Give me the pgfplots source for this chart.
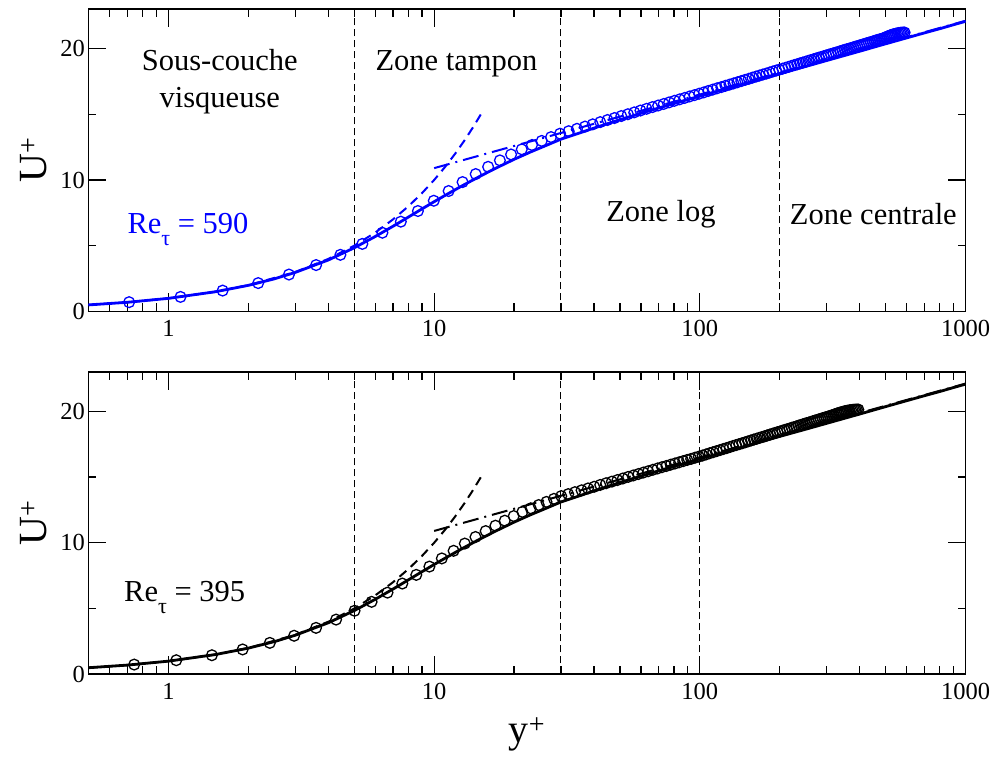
\documentclass[border=0pt]{standalone}
\usepackage{pgfplots}
\pgfplotsset{compat=1.18}
\usepackage{pgfplotstable}
\usepackage{fontspec}
\setmainfont{Liberation Serif}
\definecolor{pblue}{RGB}{0,0,255}

% DNS Re_tau = 590
\pgfplotstableread{
yp Up
0.711 0.71
1.110 1.11
1.599 1.59
2.176 2.16
2.841 2.81
3.595 3.53
4.437 4.31
5.367 5.14
6.386 5.99
7.492 6.83
8.686 7.64
9.968 8.42
11.337 9.16
12.793 9.84
14.335 10.45
15.965 11.00
17.681 11.49
19.484 11.94
21.372 12.33
23.346 12.66
25.405 12.97
27.549 13.26
29.778 13.52
32.09 13.71
34.49 13.89
36.97 14.06
39.53 14.23
42.20 14.40
44.93 14.56
47.74 14.71
50.62 14.86
53.61 15.00
56.66 15.14
59.78 15.28
63.01 15.41
66.31 15.54
69.67 15.66
73.13 15.78
76.66 15.90
80.26 16.02
83.95 16.13
87.72 16.24
91.56 16.35
95.45 16.45
99.44 16.56
103.51 16.66
107.63 16.77
111.83 16.87
116.12 16.97
120.47 17.06
124.88 17.16
129.38 17.25
133.94 17.34
138.56 17.43
143.26 17.52
148.03 17.61
152.85 17.69
157.74 17.78
162.71 17.86
167.73 17.94
172.81 18.02
177.97 18.09
183.18 18.17
188.45 18.25
193.79 18.32
199.19 18.39
204.64 18.46
210.14 18.53
215.72 18.60
221.34 18.67
227.01 18.74
232.76 18.80
238.55 18.87
244.38 18.93
250.28 18.99
256.23 19.06
262.23 19.12
268.26 19.18
274.36 19.24
280.50 19.30
286.68 19.35
292.92 19.41
299.20 19.47
305.52 19.52
311.88 19.58
318.29 19.63
324.74 19.68
331.21 19.73
337.75 19.79
344.32 19.84
350.91 19.89
357.55 19.94
364.22 19.98
370.93 20.03
377.66 20.08
384.44 20.13
391.24 20.17
398.07 20.22
404.93 20.26
411.83 20.31
418.73 20.35
425.67 20.40
432.64 20.44
439.63 20.48
446.64 20.52
453.69 20.57
460.74 20.61
467.81 20.65
474.90 20.69
482.01 20.72
489.13 20.76
496.27 20.81
503.44 20.87
510.60 20.92
517.78 20.97
524.97 21.02
532.17 21.06
539.38 21.09
546.59 21.12
553.82 21.15
561.05 21.17
568.29 21.19
575.53 21.20
582.76 21.21
590.00 21.21
}\dnsA

% DNS Re_tau = 395
\pgfplotstableread{
yp Up
0.743 0.74
1.070 1.07
1.457 1.45
1.902 1.89
2.407 2.39
2.971 2.93
3.593 3.53
4.275 4.16
5.016 4.83
5.815 5.51
6.673 6.21
7.590 6.90
8.565 7.56
9.597 8.19
10.688 8.81
11.837 9.39
13.044 9.94
14.308 10.44
15.630 10.89
17.008 11.30
18.444 11.68
19.936 12.03
21.485 12.35
23.090 12.62
24.751 12.87
26.468 13.11
28.25 13.34
30.08 13.55
31.96 13.70
33.89 13.85
35.89 13.99
37.94 14.13
40.03 14.26
42.19 14.40
44.39 14.53
46.65 14.65
48.96 14.77
51.33 14.89
53.74 15.01
56.20 15.12
58.73 15.23
61.30 15.34
63.90 15.44
66.58 15.55
69.30 15.65
72.06 15.75
74.87 15.84
77.74 15.94
80.66 16.03
83.61 16.12
86.62 16.21
89.67 16.30
92.76 16.38
95.91 16.47
99.10 16.55
102.33 16.63
105.61 16.72
108.93 16.81
112.29 16.89
115.69 16.97
119.15 17.05
122.64 17.13
126.16 17.20
129.74 17.28
133.36 17.36
137.01 17.43
140.69 17.50
144.42 17.57
148.19 17.64
151.98 17.71
155.83 17.78
159.71 17.85
163.61 17.91
167.56 17.98
171.54 18.04
175.56 18.10
179.60 18.17
183.68 18.23
187.79 18.29
191.93 18.35
196.11 18.41
200.31 18.46
204.54 18.52
208.80 18.58
213.09 18.63
217.41 18.68
221.75 18.74
226.12 18.79
230.52 18.84
234.93 18.90
239.38 18.95
243.85 19.00
248.33 19.05
252.84 19.10
257.38 19.14
261.93 19.19
266.50 19.24
271.10 19.29
275.71 19.33
280.34 19.38
284.98 19.42
289.65 19.47
294.33 19.51
299.02 19.55
303.74 19.59
308.46 19.64
313.19 19.68
317.94 19.72
322.70 19.77
327.47 19.82
332.25 19.86
337.05 19.90
341.84 19.93
346.65 19.97
351.46 20.00
356.28 20.03
361.11 20.05
365.94 20.07
370.77 20.09
375.62 20.10
380.46 20.12
385.31 20.12
390.15 20.13
395.00 20.13
}\dnsB

% composite wall law (solid line)
\pgfplotstableread{
yp Up
0.5 0.50
0.7 0.70
1 1.00
1.5 1.50
2 1.99
2.5 2.48
3 2.97
4 3.92
5 4.84
6 5.70
7 6.48
8 7.18
9 7.80
10 8.35
11 8.83
12 9.26
13 9.65
14 10.00
15 10.32
17 10.88
20 11.57
23 12.12
26 12.57
30 13.10
35 13.55
40 13.95
50 14.58
60 15.07
70 15.47
85 15.97
100 16.38
130 17.02
160 17.53
200 18.09
250 18.63
300 19.08
400 19.79
500 20.35
600 20.80
700 21.18
800 21.50
900 21.80
1000 22.06
}\wall

% viscous law U+ = y+ (dashed)
\pgfplotstableread{
yp Up
0.5 0.5
0.7 0.7
1 1
1.5 1.5
2 2
3 3
4 4
5 5
6 6
7 7
8 8
9 9
10 10
11 11
12 12
13 13
14 14
15 15
}\visc

% log law (dash-dot)
\pgfplotstableread{
yp Up
10 10.9
1000 22.1
}\loglaw

\begin{document}
\begin{tikzpicture}
\useasboundingbox (-88.5pt,-448.5pt) rectangle (904.5pt,311.5pt);

% ---------- top panel: Re_tau = 590 ----------
\begin{axis}[
    at={(0pt,0pt)}, anchor=south west,
    scale only axis, width=877pt, height=302.5pt,
    xmode=log, xmin=0.5, xmax=1000, ymin=0, ymax=23,
    xtick={1,10,100,1000}, xticklabels={1,10,100,1000},
    minor xtick={0.6,0.7,0.8,0.9,2,3,4,5,6,7,8,9,20,30,40,50,60,70,80,90,200,300,400,500,600,700,800,900},
    ytick={0,10,20}, yticklabels={0,10,20}, minor ytick={5,15},
    tick align=inside,
    major tick length=18pt, minor tick length=8pt,
    every tick/.style={black, line width=1.3pt},
    axis line style={line width=1.8pt},
    /pgf/number format/assume math mode=true,
    tick label style={font=\fontsize{24.5}{24.5}\selectfont},
    xticklabel style={yshift=-5pt},
    ylabel={U\textsuperscript{+}},
    ylabel style={font=\fontsize{40}{40}\selectfont, at={(axis description cs:-0.063,0.5)}, anchor=center},
  ]
\addplot[black, line width=1pt, dash pattern=on 7pt off 4pt, forget plot] coordinates {(5,0) (5,23)};
\addplot[black, line width=1pt, dash pattern=on 7pt off 4pt, forget plot] coordinates {(30,0) (30,23)};
\addplot[black, line width=1pt, dash pattern=on 7pt off 4pt, forget plot] coordinates {(200,0) (200,23)};
\addplot[pblue, only marks, mark=o, mark size=5.4pt, mark options={line width=1.3pt}] table[x=yp, y=Up] {\dnsA};
\addplot[pblue, line width=2.8pt, no marks] table[x=yp, y=Up] {\wall};
\addplot[pblue, line width=2pt, dash pattern=on 9pt off 6pt, no marks] table[x=yp, y=Up] {\visc};
\addplot[pblue, line width=2pt, dash pattern=on 16pt off 6pt on 2pt off 6pt, no marks] table[x=yp, y=Up] {\loglaw};
\node[font=\fontsize{30.5}{37}\selectfont, align=center] at (axis cs:1.56,17.44) {Sous-couche\\visqueuse};
\node[font=\fontsize{30.5}{37}\selectfont] at (axis cs:12.13,18.87) {Zone tampon};
\node[font=\fontsize{30.5}{37}\selectfont] at (axis cs:71.4,7.38) {Zone log};
\node[font=\fontsize{30.5}{37}\selectfont] at (axis cs:450,7.38) {Zone centrale};
\node[anchor=base west, inner sep=0pt, text=pblue, font=\fontsize{30.5}{30.5}\selectfont] at (axis cs:0.7,5.92) {Re\raisebox{-12pt}{\fontsize{22}{22}\selectfont τ} = 590};
\end{axis}

% ---------- bottom panel: Re_tau = 395 ----------
\begin{axis}[
    at={(0pt,-362.8pt)}, anchor=south west,
    scale only axis, width=877pt, height=302.5pt,
    xmode=log, xmin=0.5, xmax=1000, ymin=0, ymax=23,
    xtick={1,10,100,1000}, xticklabels={1,10,100,1000},
    minor xtick={0.6,0.7,0.8,0.9,2,3,4,5,6,7,8,9,20,30,40,50,60,70,80,90,200,300,400,500,600,700,800,900},
    ytick={0,10,20}, yticklabels={0,10,20}, minor ytick={5,15},
    tick align=inside,
    major tick length=18pt, minor tick length=8pt,
    every tick/.style={black, line width=1.3pt},
    axis line style={line width=1.8pt},
    /pgf/number format/assume math mode=true,
    tick label style={font=\fontsize{24.5}{24.5}\selectfont},
    xticklabel style={yshift=-5pt},
    ylabel={U\textsuperscript{+}},
    ylabel style={font=\fontsize{40}{40}\selectfont, at={(axis description cs:-0.063,0.5)}, anchor=center},
    xlabel={y\textsuperscript{+}},
    xlabel style={font=\fontsize{40}{40}\selectfont, at={(axis description cs:0.5,-0.2)}, anchor=center},
  ]
\addplot[black, line width=1pt, dash pattern=on 7pt off 4pt, forget plot] coordinates {(5,0) (5,23)};
\addplot[black, line width=1pt, dash pattern=on 7pt off 4pt, forget plot] coordinates {(30,0) (30,23)};
\addplot[black, line width=1pt, dash pattern=on 7pt off 4pt, forget plot] coordinates {(100,0) (100,23)};
\addplot[black, only marks, mark=o, mark size=5.4pt, mark options={line width=1.3pt}] table[x=yp, y=Up] {\dnsB};
\addplot[black, line width=2.8pt, no marks] table[x=yp, y=Up] {\wall};
\addplot[black, line width=2pt, dash pattern=on 9pt off 6pt, no marks] table[x=yp, y=Up] {\visc};
\addplot[black, line width=2pt, dash pattern=on 16pt off 6pt on 2pt off 6pt, no marks] table[x=yp, y=Up] {\loglaw};
\node[anchor=base west, inner sep=0pt, font=\fontsize{30.5}{30.5}\selectfont] at (axis cs:0.68,5.57) {Re\raisebox{-12pt}{\fontsize{22}{22}\selectfont τ} = 395};
\end{axis}
\end{tikzpicture}
\end{document}
